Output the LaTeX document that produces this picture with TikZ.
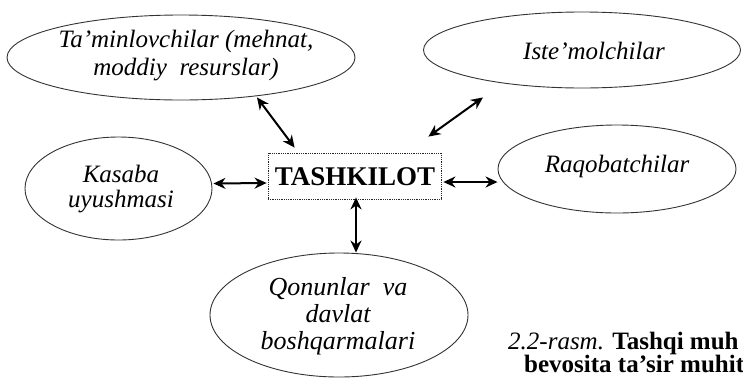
\documentclass[tikz,border=0pt]{standalone}
\usepackage{fontspec}
\setmainfont{Liberation Serif}
\usetikzlibrary{shapes.geometric,arrows.meta,calc}
\tikzset{
  oval/.style={ellipse,draw=black!80,line width=0.9pt,inner sep=0pt},
  ovaltext/.style={inner sep=0pt,align=center,font=\fontsize{25}{28}\selectfont\itshape},
  mainbox/.style={rectangle,draw=black!85,line width=0.8pt,densely dotted,inner sep=0pt,
    minimum width=173pt,minimum height=46pt},
  boxtext/.style={inner sep=0pt,font=\fontsize{27}{28}\selectfont\bfseries},
  biarrow/.style={line width=2pt,{Stealth[length=12pt,width=11pt]}-{Stealth[length=12pt,width=11pt]}},
  captxt/.style={anchor=base west,inner sep=0pt,font=\fontsize{25}{26}\selectfont}
}
\begin{document}
\begin{tikzpicture}[x=1pt,y=-1pt]
\useasboundingbox[fill=white] (0,0) rectangle (743,381);
% ellipses
\node[oval,minimum width=348pt,minimum height=85pt] (tam) at (181,57.5) {};
\node[oval,minimum width=317pt,minimum height=76pt] (ist) at (582,50) {};
\node[oval,minimum width=187pt,minimum height=103pt] (kas) at (118.5,188.5) {};
\node[mainbox] (box) at (354.5,176) {};
\node[oval,minimum width=238pt,minimum height=88pt] (raq) at (617,169) {};
\node[oval,minimum width=258pt,minimum height=124pt] (qon) at (339,315) {};
% texts
\node[ovaltext] (tamt) at (186,56) {Ta'minlovchilar\ (mehnat,\\moddiy\ \ resurslar)};
\node[ovaltext] (istt) at (594,51) {Iste'molchilar};
\node[ovaltext,font=\fontsize{25}{25.5}\selectfont\itshape] (kast) at (121,189) {Kasaba\\uyushmasi};
\node[boxtext] (boxt) at (355,177) {TASHKILOT};
\node[ovaltext] (raqt) at (617,166) {Raqobatchilar};
\node[ovaltext,font=\fontsize{26}{27}\selectfont\itshape] (qont) at (338,316)
  {Qonunlar\ \ va\\davlat\\boshqarmalari};
% connectors
\draw[biarrow] ($(tam.south)+(76,-3)$) -- ($(box.north west)+(27,-5)$);
\draw[biarrow] ($(ist.south)+(-99,9)$) -- ($(box.north east)+(-13,-16)$);
\draw[biarrow] ($(kas.east)+(1,-5)$) -- ($(box.west)+(-1,7)$);
\draw[biarrow] ($(box.east)+(2,6)$) -- ($(raq.west)+(0,13)$);
\draw[biarrow] ($(box.south)+(1.5,-2)$) -- ($(qon.north)+(17,0)$);
% caption
\node[captxt] (cap1) at (508,349) {\textit{2.2-rasm.} \textbf{Tashqi muh}};
\node[captxt] (cap2) at (524,372) {\textbf{bevosita ta'sir muhit}};
\end{tikzpicture}
\end{document}
